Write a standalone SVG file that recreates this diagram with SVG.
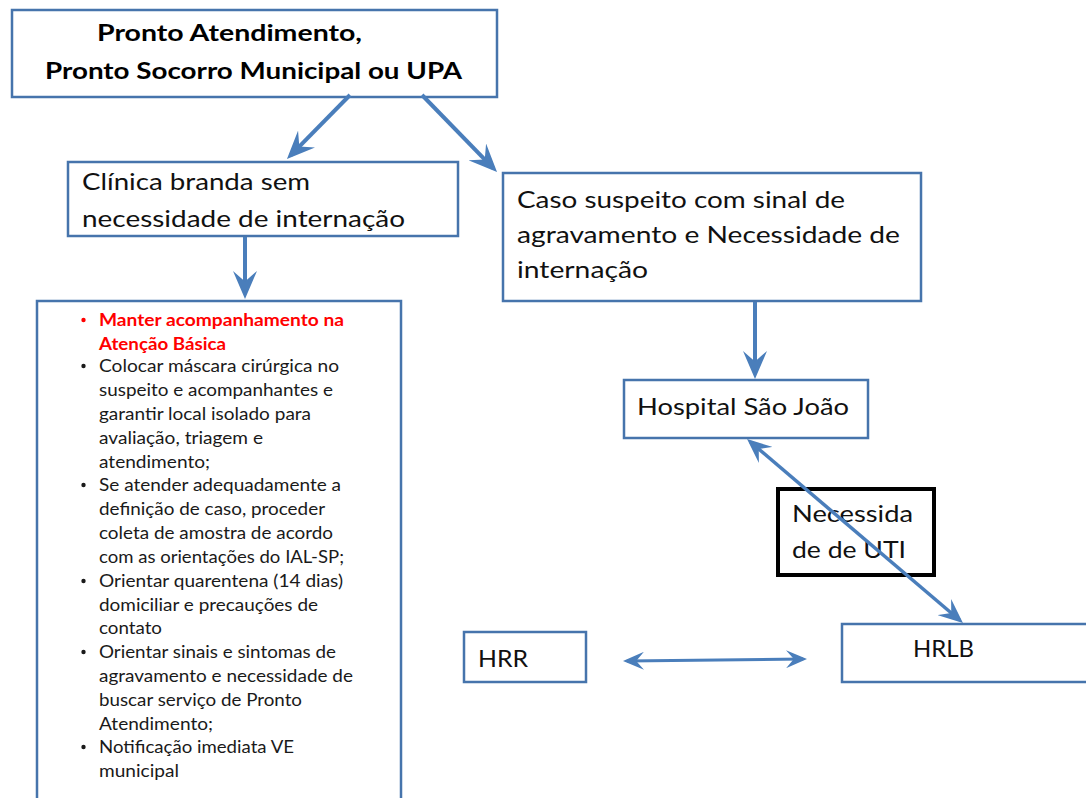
<svg xmlns="http://www.w3.org/2000/svg" width="1086" height="798" viewBox="0 0 1086 798">
<style>
.box{fill:#fff;stroke:#4674AC;stroke-width:2.5}
.uti{fill:none;stroke:#000;stroke-width:4}
.t{font-family:Lato,"Liberation Sans",sans-serif;font-size:24px;fill:#111}
.tb{font-family:Lato,"Liberation Sans",sans-serif;font-size:22.5px;font-weight:bold;fill:#000}
.s{font-family:Lato,"Liberation Sans",sans-serif;font-size:16.5px;fill:#1a1a1a}
.sr{font-family:Lato,"Liberation Sans",sans-serif;font-size:16.5px;font-weight:bold;fill:#f00}
.c{fill:none;stroke:#4A7EBB;stroke-linecap:butt}
.bul{fill:#1a1a1a}
</style>
<defs>
<marker id="ah" viewBox="0 0 7 6" refX="5.7" refY="3" markerWidth="7" markerHeight="6" markerUnits="strokeWidth" orient="auto-start-reverse">
<path d="M0,0 L7,3 L0,6 L2.6,3 Z" fill="#4A7EBB"/>
</marker>
</defs>

<g id="node-pronto">
<rect class="box" x="12" y="10" width="485" height="87"/>
<text class="tb" x="97" y="41" textLength="265" lengthAdjust="spacingAndGlyphs">Pronto Atendimento,</text>
<text class="tb" x="45" y="79" textLength="417" lengthAdjust="spacingAndGlyphs">Pronto Socorro Municipal ou UPA</text>
</g>

<g id="node-clinica">
<rect class="box" x="68" y="162" width="390" height="74"/>
<text class="t" x="82" y="190" textLength="228" lengthAdjust="spacingAndGlyphs">Clínica branda sem</text>
<text class="t" x="82" y="227" textLength="323" lengthAdjust="spacingAndGlyphs">necessidade de internação</text>
</g>

<g id="node-caso">
<rect class="box" x="503" y="173" width="418" height="128"/>
<text class="t" x="517" y="208" textLength="328" lengthAdjust="spacingAndGlyphs">Caso suspeito com sinal de</text>
<text class="t" x="517" y="243" textLength="383" lengthAdjust="spacingAndGlyphs">agravamento e Necessidade de</text>
<text class="t" x="517" y="278" textLength="131" lengthAdjust="spacingAndGlyphs">internação</text>
</g>

<g id="node-orientacoes">
<rect class="box" x="37" y="301" width="364" height="520"/>
<circle cx="83.5" cy="320" r="2.2" fill="#f00"/>
<circle class="bul" cx="83.5" cy="366" r="2.2"/>
<circle class="bul" cx="83.5" cy="485" r="2.2"/>
<circle class="bul" cx="83.5" cy="581" r="2.2"/>
<circle class="bul" cx="83.5" cy="652" r="2.2"/>
<circle class="bul" cx="83.5" cy="747" r="2.2"/>
<text class="sr" x="99" y="326" textLength="245" lengthAdjust="spacingAndGlyphs">Manter acompanhamento na</text>
<text class="sr" x="99" y="350" textLength="127" lengthAdjust="spacingAndGlyphs">Atenção Básica</text>
<text class="s" x="99" y="372" textLength="240" lengthAdjust="spacingAndGlyphs">Colocar máscara cirúrgica  no</text>
<text class="s" x="99" y="396" textLength="234" lengthAdjust="spacingAndGlyphs">suspeito e acompanhantes e</text>
<text class="s" x="99" y="420" textLength="212" lengthAdjust="spacingAndGlyphs">garantir local isolado para</text>
<text class="s" x="99" y="444" textLength="164" lengthAdjust="spacingAndGlyphs">avaliação, triagem e</text>
<text class="s" x="99" y="468" textLength="111" lengthAdjust="spacingAndGlyphs">atendimento;</text>
<text class="s" x="99" y="491" textLength="242" lengthAdjust="spacingAndGlyphs">Se atender adequadamente a</text>
<text class="s" x="99" y="515" textLength="226" lengthAdjust="spacingAndGlyphs">definição de caso, proceder</text>
<text class="s" x="99" y="539" textLength="234" lengthAdjust="spacingAndGlyphs">coleta de amostra de acordo</text>
<text class="s" x="99" y="563" textLength="245" lengthAdjust="spacingAndGlyphs">com as orientações do IAL-SP;</text>
<text class="s" x="99" y="587" textLength="244" lengthAdjust="spacingAndGlyphs">Orientar quarentena (14 dias)</text>
<text class="s" x="99" y="611" textLength="219" lengthAdjust="spacingAndGlyphs">domiciliar e precauções de</text>
<text class="s" x="99" y="634" textLength="63" lengthAdjust="spacingAndGlyphs">contato</text>
<text class="s" x="99" y="658" textLength="237" lengthAdjust="spacingAndGlyphs">Orientar sinais e sintomas de</text>
<text class="s" x="99" y="682" textLength="254" lengthAdjust="spacingAndGlyphs">agravamento e necessidade de</text>
<text class="s" x="99" y="706" textLength="203" lengthAdjust="spacingAndGlyphs">buscar serviço de Pronto</text>
<text class="s" x="99" y="730" textLength="114" lengthAdjust="spacingAndGlyphs">Atendimento;</text>
<text class="s" x="99" y="753" textLength="195" lengthAdjust="spacingAndGlyphs">Notificação imediata VE</text>
<text class="s" x="99" y="777" textLength="80" lengthAdjust="spacingAndGlyphs">municipal</text>
</g>

<g id="node-hospital">
<rect class="box" x="624" y="380" width="244" height="58"/>
<text class="t" x="637" y="415" textLength="212" lengthAdjust="spacingAndGlyphs">Hospital São João</text>
</g>

<g id="node-uti">
<rect class="uti" x="778" y="489" width="156" height="86"/>
<text class="t" x="792" y="522" textLength="121" lengthAdjust="spacingAndGlyphs">Necessida</text>
<text class="t" x="792" y="558" textLength="114" lengthAdjust="spacingAndGlyphs">de de UTI</text>
</g>

<g id="node-hrr">
<rect class="box" x="464" y="632" width="122" height="50"/>
<text class="t" x="478" y="667" textLength="50" lengthAdjust="spacingAndGlyphs">HRR</text>
</g>

<g id="node-hrlb">
<rect class="box" x="842" y="624" width="260" height="58"/>
<text class="t" x="913" y="657" textLength="61" lengthAdjust="spacingAndGlyphs">HRLB</text>
</g>

<g id="connectors">
<line class="c" stroke-width="4" x1="350" y1="95" x2="290.6" y2="155.3" marker-end="url(#ah)"/>
<line class="c" stroke-width="4" x1="422" y1="95" x2="493.4" y2="168.3" marker-end="url(#ah)"/>
<line class="c" stroke-width="4" x1="245" y1="237" x2="245" y2="293.8" marker-end="url(#ah)"/>
<line class="c" stroke-width="4" x1="755" y1="302" x2="755" y2="373.8" marker-end="url(#ah)"/>
<line class="c" stroke-width="3.5" x1="750.5" y1="442" x2="959.5" y2="620" marker-start="url(#ah)" marker-end="url(#ah)"/>
<line class="c" stroke-width="3" x1="626.9" y1="661" x2="803.1" y2="659" marker-start="url(#ah)" marker-end="url(#ah)"/>
</g>
</svg>
